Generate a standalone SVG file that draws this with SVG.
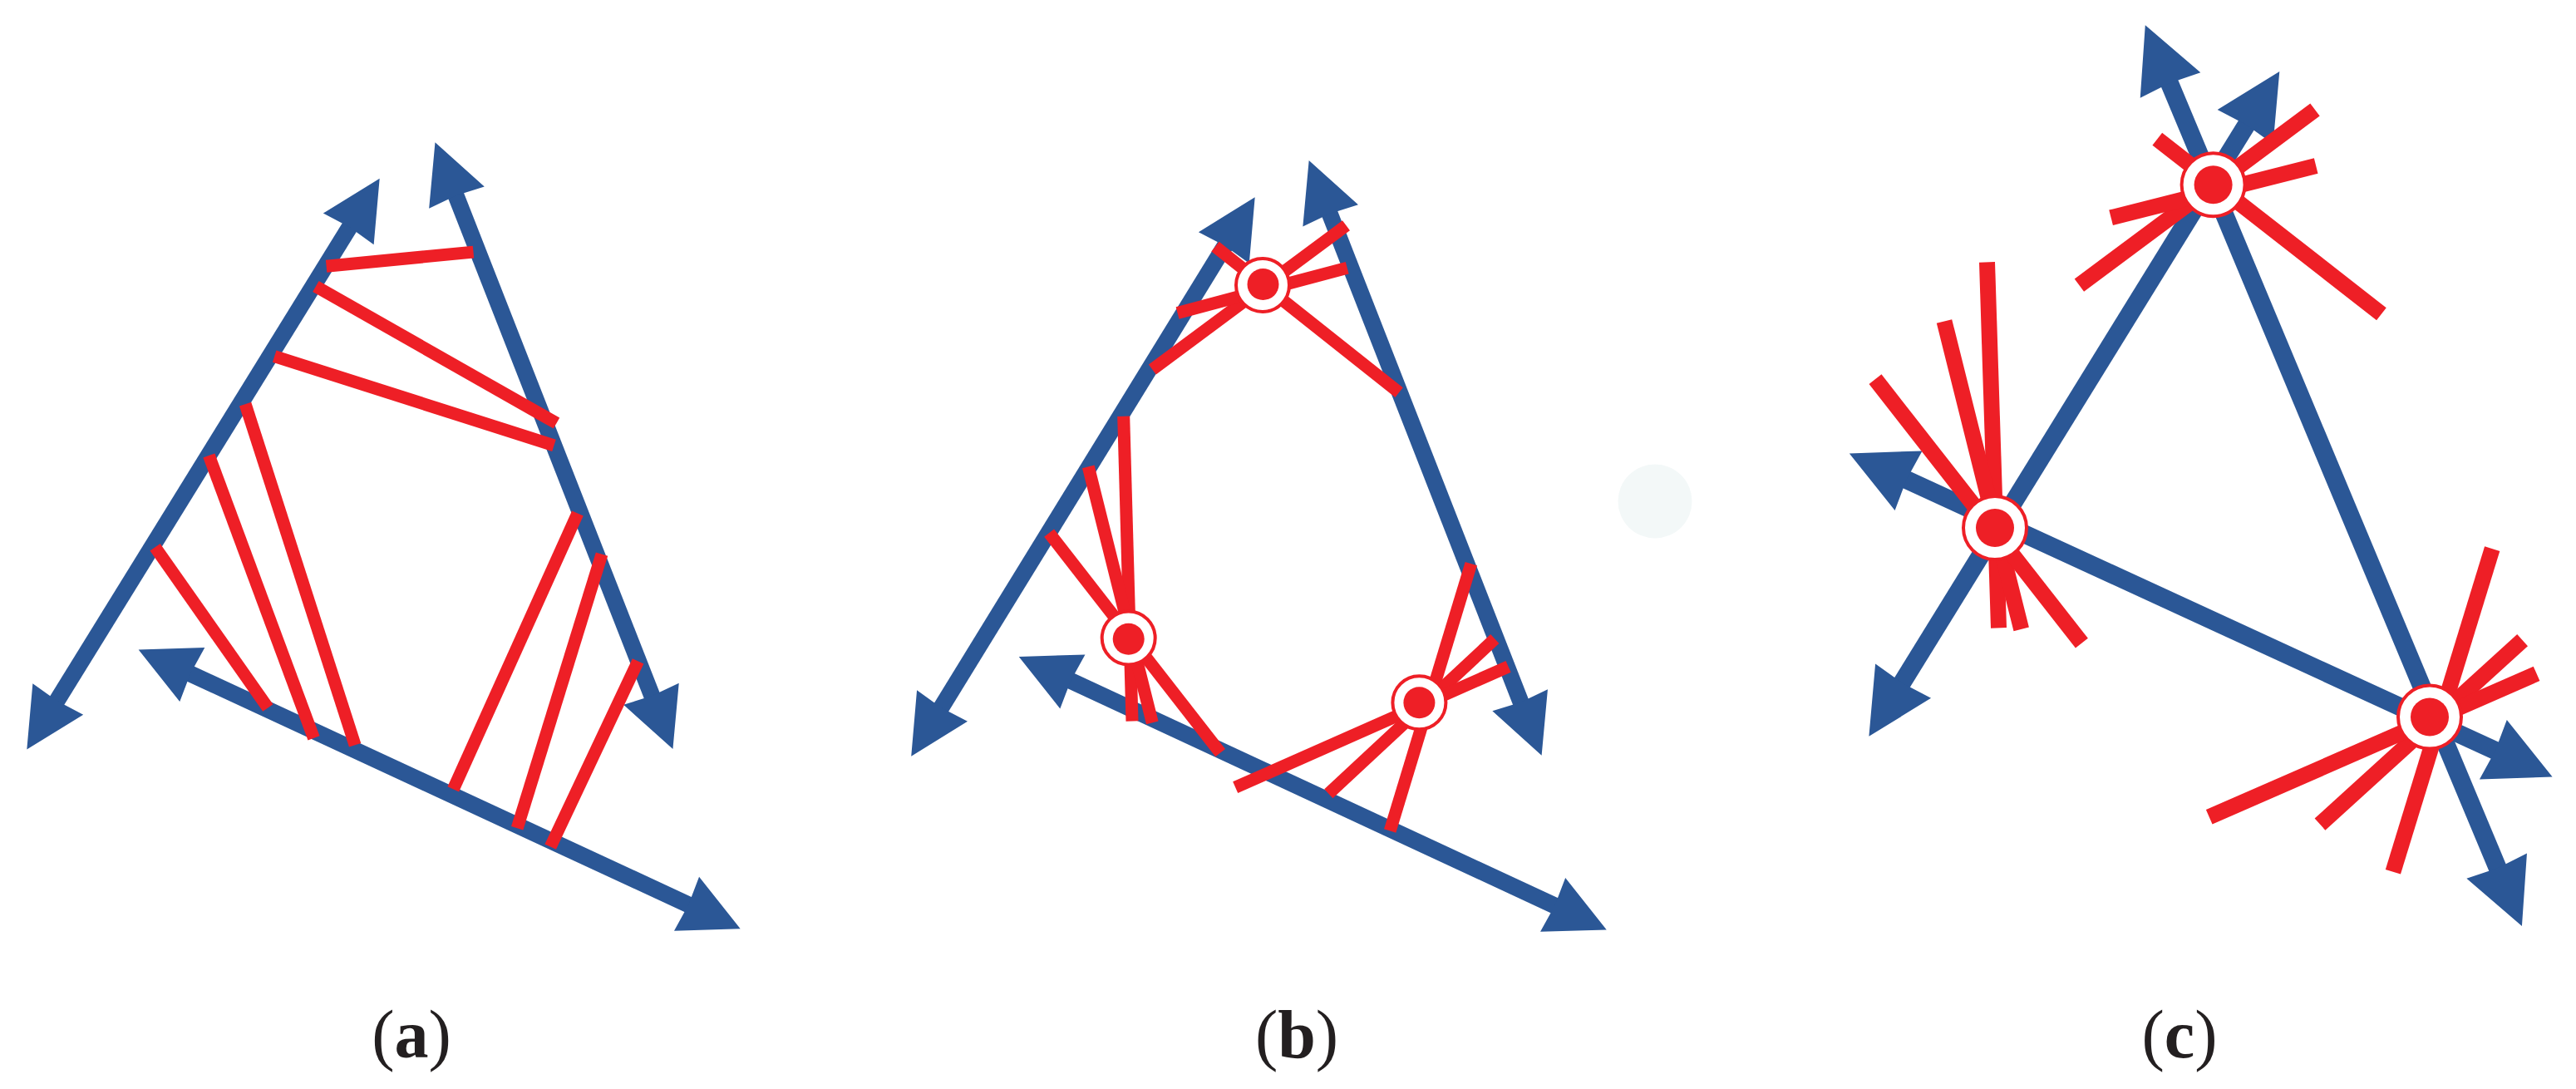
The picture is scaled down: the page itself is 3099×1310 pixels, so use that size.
<svg xmlns="http://www.w3.org/2000/svg" width="3099" height="1310" viewBox="0 0 3099 1310">
<style>
.axis{stroke:#2b5796;stroke-width:20;fill:none;marker-start:url(#arr);marker-end:url(#arr)}
.axisc{stroke:#2b5796;stroke-width:22;fill:none;marker-start:url(#arr);marker-end:url(#arr)}
.ray{stroke:#ee1f26;stroke-width:15;fill:none}
.rayc{stroke:#ee1f26;stroke-width:19;fill:none}
.ring{fill:#fff;stroke:#ee1f26;stroke-width:4}
.dot{fill:#ee1f26}
.lbl{font-family:"Liberation Serif","Times New Roman",serif;font-size:82px;fill:#231f20;text-anchor:middle}
</style>
<defs>
<marker id="arr" markerUnits="strokeWidth" markerWidth="4" markerHeight="4" viewBox="-1 -1.6 3.2 3.2" refX="0" refY="0" orient="auto-start-reverse" overflow="visible">
<path d="M2,0 L-0.85,-1.43 L-0.75,0 L-0.85,1.43 Z" fill="#2b5796"/>
</marker>
</defs>
<rect width="3099" height="1310" fill="#fff"/>
<circle cx="1991" cy="603" r="44.5" fill="#f3f8f8"/>
<g id="connectors">
<line class="axis" x1="58.6" y1="859" x2="430.4" y2="257.3"/>
<line class="axis" x1="541.7" y1="217.8" x2="791.2" y2="854.5"/>
<line class="axis" x1="212" y1="802.6" x2="845.3" y2="1096.2"/>
<line class="axis" x1="1122.4" y1="867.2" x2="1483.5" y2="279.8"/>
<line class="axis" x1="1592.9" y1="239.6" x2="1836.4" y2="862.1"/>
<line class="axis" x1="1271.1" y1="811" x2="1887.4" y2="1097.4"/>
<line class="axisc" x1="2602" y1="80.9" x2="3012.7" y2="1063.2"/>
<line class="axisc" x1="2713.4" y1="132.7" x2="2277.3" y2="839"/>
<line class="axisc" x1="2274.8" y1="568.4" x2="3020.6" y2="911.6"/>
</g>
<g id="rays-a">
<line class="ray" x1="392.6" y1="320.3" x2="569.5" y2="303.1"/>
<line class="ray" x1="379.9" y1="344.5" x2="669.5" y2="509.1"/>
<line class="ray" x1="330.2" y1="428.7" x2="666.5" y2="535.8"/>
<line class="ray" x1="295.1" y1="486.1" x2="427.1" y2="896.2"/>
<line class="ray" x1="251.4" y1="548" x2="377.5" y2="887.9"/>
<line class="ray" x1="186.6" y1="658.3" x2="322.3" y2="851.5"/>
<line class="ray" x1="694.9" y1="617.5" x2="545.3" y2="949.4"/>
<line class="ray" x1="724" y1="666.6" x2="622.2" y2="996.3"/>
<line class="ray" x1="767.6" y1="795.4" x2="662.2" y2="1018.6"/>
</g>
<g id="rays-b">
<line class="ray" x1="1462" y1="296.7" x2="1683.1" y2="472.1"/>
<line class="ray" x1="1619.5" y1="271.2" x2="1386.3" y2="444.6"/>
<line class="ray" x1="1620.7" y1="322.2" x2="1416.6" y2="376.4"/>
<line class="ray" x1="1351.7" y1="500.8" x2="1362" y2="867.5"/>
<line class="ray" x1="1309.3" y1="561.4" x2="1386.3" y2="869.4"/>
<line class="ray" x1="1262.1" y1="641.1" x2="1468.1" y2="905.7"/>
<line class="ray" x1="1769.8" y1="678.1" x2="1672.2" y2="999.5"/>
<line class="ray" x1="1798.3" y1="768.6" x2="1598.3" y2="954.8"/>
<line class="ray" x1="1814.6" y1="801.8" x2="1486.2" y2="947.2"/>
</g>
<g id="rays-c">
<line class="rayc" x1="2785" y1="132" x2="2501.4" y2="343.2"/>
<line class="rayc" x1="2786.2" y1="199.5" x2="2539.6" y2="261.8"/>
<line class="rayc" x1="2595.3" y1="167.2" x2="2864.9" y2="377.7"/>
<line class="rayc" x1="2390.5" y1="315.4" x2="2404.5" y2="755.4"/>
<line class="rayc" x1="2339" y1="386.5" x2="2431.7" y2="756.9"/>
<line class="rayc" x1="2256" y1="456.2" x2="2504.4" y2="773.7"/>
<line class="rayc" x1="2998.2" y1="660.1" x2="2878.9" y2="1048.8"/>
<line class="rayc" x1="3034.6" y1="770.1" x2="2791" y2="991.6"/>
<line class="rayc" x1="3051.6" y1="810.4" x2="2657.7" y2="982.8"/>
</g>
<g id="node-b1"><circle class="ring" cx="1519" cy="343" r="32"/><circle class="dot" cx="1519.5" cy="342" r="19"/></g>
<g id="node-b2"><circle class="ring" cx="1357.7" cy="767.5" r="32"/><circle class="dot" cx="1357.7" cy="768.8" r="19"/></g>
<g id="node-b3"><circle class="ring" cx="1707.4" cy="845.2" r="32"/><circle class="dot" cx="1707.4" cy="845.2" r="19"/></g>
<g id="node-c1"><circle class="ring" cx="2662.6" cy="222.2" r="38"/><circle class="dot" cx="2662.6" cy="222.2" r="23"/></g>
<g id="node-c2"><circle class="ring" cx="2400" cy="635" r="38"/><circle class="dot" cx="2400" cy="635" r="23"/></g>
<g id="node-c3"><circle class="ring" cx="2923" cy="862.5" r="38"/><circle class="dot" cx="2923" cy="862.5" r="23"/></g>
<g id="labels">
<text class="lbl" x="495" y="1272">(<tspan font-weight="bold">a</tspan>)</text>
<text class="lbl" x="1560" y="1272">(<tspan font-weight="bold">b</tspan>)</text>
<text class="lbl" x="2622" y="1272">(<tspan font-weight="bold">c</tspan>)</text>
</g>
</svg>
